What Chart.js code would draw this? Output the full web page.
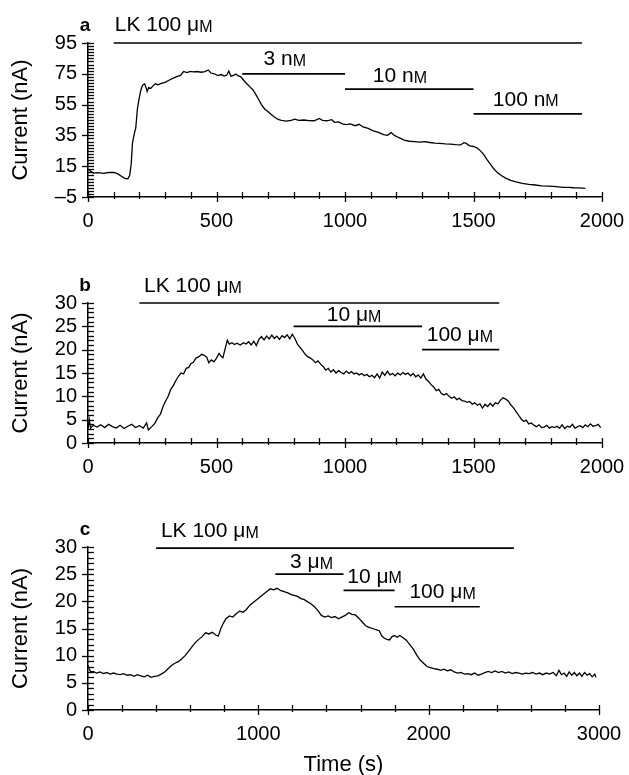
<!DOCTYPE html>
<html><head><meta charset="utf-8">
<script src="https://cdn.jsdelivr.net/npm/chart.js@4"></script>
<style>
html,body{margin:0;padding:0;background:#fff;}
#wrap{position:relative;width:629px;height:775px;overflow:hidden;}
canvas{position:absolute;left:0;}
</style></head><body><div id="wrap">
<canvas id="ca" style="top:0px" width="629" height="240"></canvas>
<canvas id="cb" style="top:250px" width="629" height="240"></canvas>
<canvas id="cc" style="top:490px" width="629" height="288"></canvas>
</div>
<script>
// ---------- Panel a data ----------
const aTime = [0,8,20,40,60,80,100,115,130,145,155,162,168,173,180,186,192,198,205,212,220,226,230,236,244,252,262,272,285,300,315,330,345,360,372,385,398,410,425,440,455,468,478,492,505,518,530,540,548,556,566,575,585,595,605,618,630,642,655,665,675,688,700,712,725,738,752,770,790,805,820,840,860,880,900,912,930,948,960,975,990,1005,1020,1040,1055,1070,1090,1110,1130,1150,1165,1180,1192,1210,1230,1250,1270,1290,1310,1330,1350,1370,1390,1410,1430,1450,1462,1472,1485,1500,1515,1528,1540,1552,1565,1578,1592,1608,1625,1645,1665,1690,1715,1740,1765,1790,1810,1830,1850,1870,1890,1910,1935];
const aCurrent = [13,12,10.5,10.8,10.4,10.9,11,10.2,8.5,7,6.8,9,16,30,36,40,52,58,64,67.5,68.5,66,63.5,66,65.5,67,68.5,67.8,68.8,69.5,70.8,72,73.2,74,76.5,75.8,76.6,76.2,76.5,76,76.4,77.5,75.5,75,73.8,74.5,73.5,74.2,76.8,73.5,74,74.8,73.6,73,71,68.5,66.5,64.5,61,58,55,52,50.5,48.8,47,45.5,44.8,44.3,44.7,45.5,44.8,45,44.6,44.5,46,44.8,44.5,45.2,43.5,43.8,42.5,42,42.5,41.3,42.2,40.5,39.5,38,37,35.5,35,36.8,35,33.5,32,31.2,31,30.6,31,30.4,30,29.8,29.5,29.3,29,28.8,30.3,29.8,28.2,27.8,26.8,24.8,22.5,19.5,16.5,13.5,11,9,7.3,5.8,4.8,3.9,3.2,2.8,2.2,2,1.9,1.6,1.2,1.3,1,0.9,0.6];
const aBarStart = [100,600,1000,1500];
const aBarEnd = [1922,1000,1500,1922];
const aBarLevel = [95,75,65,49];
const aLabels = ['LK 100 μM','3 nM','10 nM','100 nM'];
const aLabelX = [104,683,1108,1575];
const aLabelY = [106.5,84.5,73.5,58];
const aXTicks = [0,500,1000,1500,2000];
const aYTicks = [-5,15,35,55,75,95];

// ---------- Panel b data ----------
const bTime = [0,5,10,20,35,50,65,80,95,110,125,140,155,170,185,200,215,228,235,248,260,272,282,292,302,312,322,332,342,352,362,372,382,392,400,410,420,432,442,452,462,470,480,490,500,510,518,525,535,542,550,560,570,580,592,605,615,625,635,645,655,665,675,685,695,705,715,725,735,745,755,765,775,785,795,805,815,825,835,845,855,865,875,885,895,905,915,925,935,945,955,965,975,985,995,1005,1015,1025,1035,1045,1055,1065,1075,1085,1095,1105,1115,1125,1135,1145,1155,1165,1175,1185,1195,1205,1215,1225,1235,1245,1255,1265,1275,1285,1295,1305,1315,1325,1335,1345,1355,1365,1375,1385,1395,1405,1415,1425,1435,1445,1455,1465,1475,1485,1495,1505,1515,1525,1535,1545,1555,1565,1575,1585,1595,1605,1615,1625,1635,1645,1655,1665,1675,1685,1695,1705,1715,1725,1735,1745,1755,1765,1775,1785,1795,1805,1815,1825,1835,1845,1855,1865,1875,1885,1895,1905,1915,1925,1935,1945,1955,1965,1975,1985,1995];
const bCurrent = [3,5,3.2,3.8,3.4,3.9,3.3,4,3.5,3.2,3.8,3.1,3.6,4,3.3,3.7,3.2,4.3,2.8,3.5,4.2,5.5,6.2,7.8,9,10,11.5,12.3,13.4,14.3,15,14.8,16,16.2,17,17.3,18.2,18.5,19,18.8,18.4,17.2,17.8,17.4,18.2,19.2,18.6,18.3,20.5,22,21.2,21.5,21.1,21.4,21,21.5,21.2,21.7,21,21.8,20.9,22.2,22.8,22.1,22.9,22.3,23.1,22.4,22.9,22.2,23,22.6,23.2,22.3,23.3,22.4,21.2,20.5,19.8,19,18.5,18.2,17.8,17.2,17.6,16.9,16.4,15.6,16,15.2,15.7,15,15.5,15.1,14.8,15.4,14.9,15.3,14.8,15,14.6,14.9,14.4,14.7,14.2,14.5,14,14.8,13.9,15.2,14.5,15.4,14.6,14.9,14.4,15,14.6,15.1,14.7,15,14.4,14.9,14.2,14.6,13.9,14.8,13.7,13.2,12.5,12,11.2,11.5,10.6,10.3,10.6,10,9.6,9.9,9.3,9.6,9.1,9,8.7,8.9,8.3,8.6,8.1,8.4,7.5,8.3,7.8,8.5,7.9,8.6,8.4,9.2,9.7,9.4,9,8.2,7.6,6.8,6,5.2,4.6,4.9,4.1,4.3,3.8,3.5,3.9,3.3,3.4,3.8,3.2,3.5,3.3,3.6,3.2,3.9,3.1,3.6,3.4,4,3.2,3.5,3.7,3.3,3.9,3.5,4.1,3.6,3.7,4,3.3];
const bBarStart = [200,800,1300];
const bBarEnd = [1600,1300,1600];
const bBarLevel = [30,25,20];
const bLabels = ['LK 100 μM','10 μM','100 μM'];
const bLabelX = [218,929,1318];
const bLabelY = [33.6,27.3,23];
const bXTicks = [0,500,1000,1500,2000];
const bYTicks = [0,5,10,15,20,25,30];

// ---------- Panel c data ----------
const cTime = [0,8,16,30,50,70,90,110,130,150,170,190,210,230,250,270,290,310,330,350,370,390,410,430,450,470,490,510,530,550,570,590,610,630,650,670,690,710,730,750,765,780,795,810,830,850,870,890,910,930,950,970,990,1010,1030,1050,1070,1090,1110,1130,1150,1170,1190,1210,1230,1250,1270,1290,1310,1330,1350,1370,1390,1410,1430,1450,1470,1490,1510,1530,1550,1570,1590,1610,1630,1650,1670,1690,1710,1725,1740,1755,1770,1785,1800,1815,1830,1850,1870,1890,1910,1930,1950,1970,1990,2010,2030,2050,2070,2090,2110,2130,2150,2170,2190,2210,2230,2250,2270,2290,2310,2330,2350,2370,2390,2410,2430,2450,2470,2490,2510,2530,2550,2570,2590,2610,2630,2650,2670,2690,2710,2730,2750,2765,2780,2795,2810,2825,2840,2855,2870,2885,2900,2915,2930,2945,2960,2975,2982];
const cCurrent = [8.2,7.5,7,7.1,6.8,7,6.7,6.9,6.6,6.8,6.6,6.5,6.7,6.4,6.5,6.2,6.5,6.3,6.1,6.4,6,6.2,6.3,6.6,7,7.6,8.2,8.6,8.9,9.4,10,10.8,11.6,12.4,13,13.5,14.2,14,14.3,13.8,13.6,15,16,16.8,17.3,17.1,17.7,18.2,18,18.5,19.3,19.8,20.3,20.8,21.3,21.8,22.3,22.1,22.4,22,21.8,21.6,21.3,21.1,20.9,20.5,20.3,19.9,19.5,19,18.3,17.4,17.1,17.3,17,17.2,16.8,17.1,17.4,17.9,17.6,17.5,16.9,16.2,15.5,15.2,15,14.8,14.6,13.6,13.2,13,12.9,13.5,13.7,13.4,13.7,13.3,12.8,12,11.2,10.1,9.2,8.6,8,7.8,7.6,7.5,7.3,7.5,7.2,7.4,7,6.8,6.9,6.6,6.7,6.5,6.8,6.4,6.6,6.9,7.1,6.9,7.2,6.9,7.1,6.8,7,6.7,6.9,6.8,6.6,6.8,6.7,6.9,6.6,6.8,6.5,6.8,6.6,6.9,6.3,7.3,6.5,6.8,6.2,7,6.4,6.9,6.3,6.8,6.2,6.9,6.4,6.7,6.1,6.6,6];
const cBarStart = [400,1100,1500,1800];
const cBarEnd = [2500,1500,1800,2300];
const cBarLevel = [29.8,25,22,19];
const cLabels = ['LK 100 μM','3 μM','10 μM','100 μM'];
const cLabelX = [428,1186,1522,1887];
const cLabelY = [32.9,27.2,24.5,21.7];
const cXTicks = [0,1000,2000,3000];
const cYTicks = [0,5,10,15,20,25,30];

const FONT = '"Liberation Sans", Arial, sans-serif';
const TICK_SIZE = 20, TITLE_SIZE = 22, LABEL_SIZE = 21;

function near(list, v){ return list.some(t => Math.abs(t - v) < 1e-6); }
function fmt(v){ return v < 0 ? '\u2013' + Math.abs(v) : String(v); }

const decorPlugin = {
  id: 'decor',
  afterDraw(chart, args, o) {
    const ctx = chart.ctx;
    const xs = chart.scales.x, ys = chart.scales.y;
    const ca = chart.chartArea;
    ctx.save();
    ctx.strokeStyle = '#000';
    ctx.lineWidth = 1.3;
    ys.ticks.forEach(t => {
      const p = Math.round(ys.getPixelForValue(t.value)) + 0.5;
      const major = near(o.yMajor, t.value);
      ctx.beginPath();
      ctx.moveTo(ca.left - (major ? 6 : 0), p);
      ctx.lineTo(ca.left + 6, p);
      ctx.stroke();
    });
    xs.ticks.forEach(t => {
      const p = Math.round(xs.getPixelForValue(t.value)) + 0.5;
      const major = near(o.xMajor, t.value);
      ctx.beginPath();
      ctx.moveTo(p, ca.bottom + (major ? 5 : 2));
      ctx.lineTo(p, ca.bottom - 5);
      ctx.stroke();
    });
    ctx.fillStyle = '#000';
    ctx.textBaseline = 'middle';
    ctx.textAlign = 'left';
    o.labels.forEach((txt, i) => {
      let px = xs.getPixelForValue(o.labelX[i]);
      const py = ys.getPixelForValue(o.labelY[i]);
      const main = txt.slice(0, -1), last = txt.slice(-1);
      ctx.font = LABEL_SIZE + 'px ' + FONT;
      ctx.fillText(main, px, py);
      px += ctx.measureText(main).width;
      ctx.font = Math.round(LABEL_SIZE * 0.77) + 'px ' + FONT;
      ctx.fillText(last, px, py + 2);
    });
    ctx.font = 'bold 19px ' + FONT;
    ctx.textAlign = 'center';
    ctx.fillText(o.letter, ca.left - 3, ca.top - 17);
    ctx.restore();
  }
};

function makePanel(id, p) {
  const lineData = p.time.map((t, i) => ({x: t, y: p.current[i]}));
  const datasets = [{
    data: lineData, borderColor: '#000', borderWidth: 1.3, pointRadius: 0, tension: 0
  }];
  p.barStart.forEach((s, i) => {
    datasets.push({
      data: [{x: s, y: p.barLevel[i]}, {x: p.barEnd[i], y: p.barLevel[i]}],
      borderColor: '#000', borderWidth: 1.7, pointRadius: 0, clip: false
    });
  });
  const mkTicks = (min, max, step) => (scale) => {
    const arr = [];
    for (let v = min; v <= max + 1e-9; v += step) arr.push({value: Math.round(v * 1000) / 1000});
    scale.ticks = arr;
  };
  new Chart(document.getElementById(id), {
    type: 'line',
    data: {datasets},
    plugins: [decorPlugin],
    options: {
      responsive: false,
      animation: false,
      events: [],
      layout: {padding: {top: p.padTop, right: p.padRight, left: 0, bottom: 0}},
      plugins: {
        legend: {display: false}, tooltip: {enabled: false},
        decor: {yMajor: p.yMajor, xMajor: p.xMajor, labels: p.labels, labelX: p.labelX, labelY: p.labelY, letter: p.letter}
      },
      scales: {
        x: {
          type: 'linear', min: p.xMin, max: p.xMax,
          afterBuildTicks: mkTicks(p.xMin, p.xMax, p.xStep),
          afterFit: (s) => { s.height = p.xAxisH; s.paddingLeft = 0; s.paddingRight = 0; },
          grid: {display: false, drawTicks: false},
          border: {display: true, color: '#000', width: 1.5},
          ticks: {autoSkip: false, maxRotation: 0, padding: 12, color: '#000',
            font: {family: FONT, size: TICK_SIZE},
            callback: (v) => near(p.xMajor, v) ? fmt(v) : ''},
          title: p.xTitle ? {display: true, text: p.xTitle, color: '#000', font: {family: FONT, size: TITLE_SIZE}, padding: {top: 0, bottom: 0}} : {display: false}
        },
        y: {
          type: 'linear', min: p.yMin, max: p.yMax,
          afterBuildTicks: mkTicks(p.yMin, p.yMax, p.yStep),
          afterFit: (s) => { s.width = 88; s.paddingTop = 0; s.paddingBottom = 0; },
          grid: {display: false, drawTicks: false},
          border: {display: true, color: '#000', width: 1.5},
          ticks: {autoSkip: false, padding: 11, color: '#000',
            font: {family: FONT, size: TICK_SIZE},
            callback: (v) => near(p.yMajor, v) ? fmt(v) : ''},
          title: {display: true, text: 'Current (nA)', color: '#000', font: {family: FONT, size: TITLE_SIZE}, padding: {top: 8, bottom: 0}}
        }
      }
    }
  });
}

makePanel('ca', {time: aTime, current: aCurrent, barStart: aBarStart, barEnd: aBarEnd, barLevel: aBarLevel,
  labels: aLabels, labelX: aLabelX, labelY: aLabelY, letter: 'a',
  xMin: 0, xMax: 2000, xStep: 100, xMajor: aXTicks, yMin: -5, yMax: 95, yStep: 2, yMajor: aYTicks,
  padTop: 43, padRight: 27, xAxisH: 43});
makePanel('cb', {time: bTime, current: bCurrent, barStart: bBarStart, barEnd: bBarEnd, barLevel: bBarLevel,
  labels: bLabels, labelX: bLabelX, labelY: bLabelY, letter: 'b',
  xMin: 0, xMax: 2000, xStep: 100, xMajor: bXTicks, yMin: 0, yMax: 30, yStep: 1, yMajor: bYTicks,
  padTop: 53, padRight: 27, xAxisH: 47});
makePanel('cc', {time: cTime, current: cCurrent, barStart: cBarStart, barEnd: cBarEnd, barLevel: cBarLevel,
  labels: cLabels, labelX: cLabelX, labelY: cLabelY, letter: 'c',
  xMin: 0, xMax: 3000, xStep: 200, xMajor: cXTicks, yMin: 0, yMax: 30, yStep: 1, yMajor: cYTicks,
  padTop: 57, padRight: 30, xAxisH: 68, xTitle: 'Time (s)'});
</script>
</body></html>
